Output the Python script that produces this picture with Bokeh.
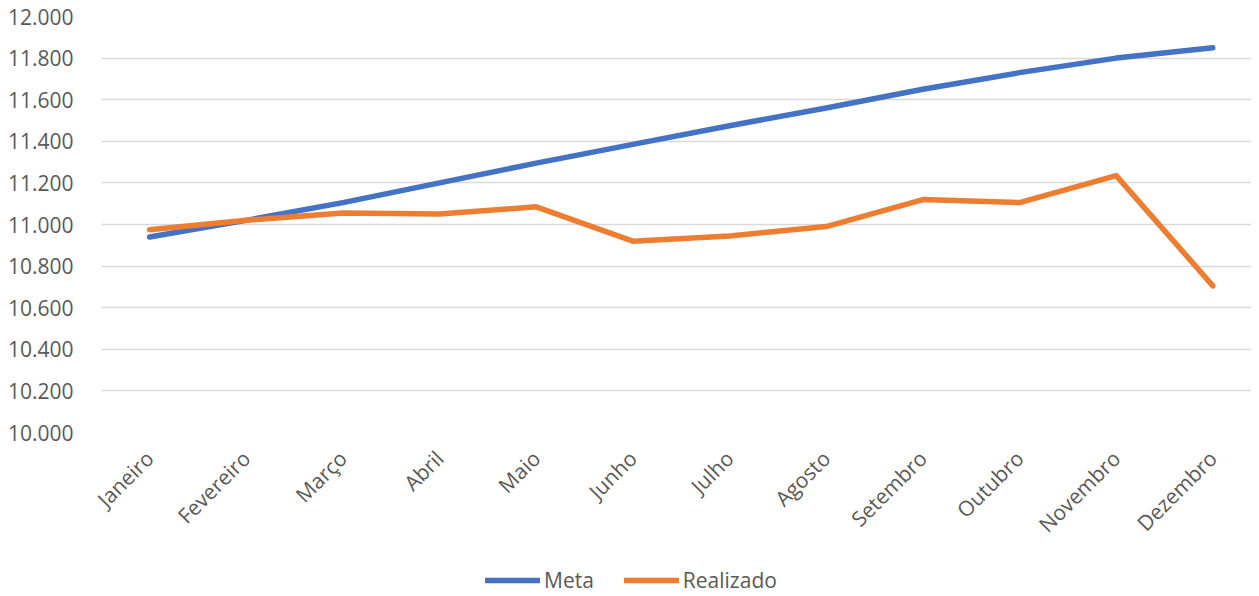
import math
from bokeh.plotting import figure
from bokeh.layouts import column
from bokeh.models import Range1d, FixedTicker, Legend, LegendItem
from bokeh.embed import file_html
from bokeh.resources import INLINE

months = ["Janeiro", "Fevereiro", "Março", "Abril", "Maio", "Junho",
          "Julho", "Agosto", "Setembro", "Outubro", "Novembro", "Dezembro"]
meta = [10940, 11020, 11105, 11200, 11295, 11385, 11475, 11560, 11650, 11730, 11800, 11850]
realizado = [10975, 11020, 11055, 11050, 11085, 10920, 10945, 10990, 11120, 11105, 11235, 10705]
y_ticks = [10000, 10200, 10400, 10600, 10800, 11000, 11200, 11400, 11600, 11800, 12000]
series_names = ["Meta", "Realizado"]
series_colors = ["#4472C4", "#ED7D31"]

xs = list(range(len(months)))
FONT = "Open Sans"
GRAY = "#595959"
W = 1251

p = figure(width=W, height=554, output_backend="svg", toolbar_location=None,
           x_range=Range1d(-0.497, 11.40), y_range=Range1d(10000, 12000),
           min_border_left=101, min_border_right=0, min_border_top=16, min_border_bottom=122)
p.outline_line_color = None
p.background_fill_color = "white"
p.border_fill_color = "white"

# y axis
p.yaxis.ticker = FixedTicker(ticks=y_ticks)
p.yaxis.major_label_overrides = {t: f"{t:,}".replace(",", ".") for t in y_ticks}
p.yaxis.axis_line_color = None
p.yaxis.major_tick_line_color = None
p.yaxis.minor_tick_line_color = None
p.yaxis.major_label_text_font = FONT
p.yaxis.major_label_text_font_size = "21px"
p.yaxis.major_label_text_color = GRAY
p.yaxis.major_label_standoff = 22

# x axis
p.xaxis.ticker = FixedTicker(ticks=xs)
p.xaxis.major_label_overrides = {i: m for i, m in zip(xs, months)}
p.xaxis.axis_line_color = None
p.xaxis.major_tick_line_color = None
p.xaxis.minor_tick_line_color = None
p.xaxis.major_label_orientation = math.pi / 4
p.xaxis.major_label_text_font = FONT
p.xaxis.major_label_text_font_size = "21px"
p.xaxis.major_label_text_color = GRAY
p.xaxis.major_label_standoff = 16

p.xgrid.grid_line_color = None
p.ygrid.grid_line_color = "#D9D9D9"
p.ygrid.grid_line_width = 1.5
p.ygrid.ticker = FixedTicker(ticks=y_ticks)

for vals, col in zip([meta, realizado], series_colors):
    p.line(xs, vals, line_color=col, line_width=5.5, line_cap="round", line_join="round")

# legend strip below (series lines placed off-range, only their legend glyphs show)
lf = figure(width=W, height=42, output_backend="svg", toolbar_location=None,
            x_range=Range1d(0, 1), y_range=Range1d(0, 1), min_border=0,
            x_axis_location=None, y_axis_location=None)
lf.grid.grid_line_color = None
lf.outline_line_color = None
items = []
for name, col, vals in zip(series_names, series_colors, [meta, realizado]):
    r = lf.line(x=xs, y=vals, line_color=col, line_width=5.5, line_cap="round")
    items.append(LegendItem(label=name, renderers=[r]))
legend = Legend(items=items, orientation="horizontal", location=(384, 2),
                label_text_font=FONT, label_text_font_size="21px",
                label_text_color=GRAY, glyph_width=55, glyph_height=20,
                label_standoff=4, spacing=30, border_line_color=None,
                background_fill_alpha=0, padding=4, margin=0)
lf.add_layout(legend, "center")

layout = column(p, lf, spacing=0)
open("out.html", "w").write(file_html(layout, INLINE))
